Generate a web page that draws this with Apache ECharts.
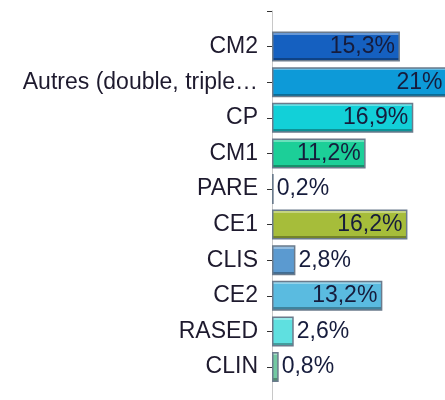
<!DOCTYPE html>
<html>
<head>
<meta charset="utf-8">
<script src="https://cdn.jsdelivr.net/npm/echarts@6/dist/echarts.min.js"></script>
<style>
html,body{margin:0;padding:0;background:#fff;}
#chart{width:445px;height:400px;}
</style>
</head>
<body>
<div id="chart"></div>
<script>
var categories = ['CM2', 'Autres (double, triple\u2026', 'CP', 'CM1', 'PARE', 'CE1', 'CLIS', 'CE2', 'RASED', 'CLIN'];
var values = [15.3, 21, 16.9, 11.2, 0.2, 16.2, 2.8, 13.2, 2.6, 0.8];
var valueLabels = ['15,3%', '21%', '16,9%', '11,2%', '0,2%', '16,2%', '2,8%', '13,2%', '2,6%', '0,8%'];

var fills = ['#1560c0', '#0d9ad8', '#12d0d8', '#1ccf98', '#3f6aa0', '#a6bd3a', '#5b9ad0', '#5abbe0', '#5fe0e0', '#72c9a2'];

function mix(hex, target, t) {
  var r = parseInt(hex.substr(1, 2), 16), g = parseInt(hex.substr(3, 2), 16), b = parseInt(hex.substr(5, 2), 16);
  r = Math.round(r + (target - r) * t); g = Math.round(g + (target - g) * t); b = Math.round(b + (target - b) * t);
  return 'rgb(' + r + ',' + g + ',' + b + ')';
}

var axisCats = [''].concat(categories).concat(['']);
var seriesData = [{ value: '-' }];
values.forEach(function (v, i) {
  var inside = v >= 10;
  seriesData.push({
    value: v,
    itemStyle: {
      color: {
        type: 'linear', x: 0, y: 0, x2: 0, y2: 1,
        colorStops: [
          { offset: 0, color: mix(fills[i], 255, 0.35) },
          { offset: 0.11, color: mix(fills[i], 255, 0.35) },
          { offset: 0.11, color: fills[i] },
          { offset: 0.88, color: fills[i] },
          { offset: 0.88, color: mix(fills[i], 0, 0.3) },
          { offset: 1, color: mix(fills[i], 0, 0.3) }
        ]
      }
    },
    label: {
      position: inside ? 'insideRight' : 'right',
      distance: inside ? 5 : 3,
      formatter: valueLabels[i]
    }
  });
});
seriesData.push({ value: '-' });

var chart = echarts.init(document.getElementById('chart'), null, { renderer: 'canvas' });
chart.setOption({
  animation: false,
  backgroundColor: '#ffffff',
  grid: { left: 272, top: 11, width: 209, height: 391.6, containLabel: false, outerBoundsMode: 'none' },
  xAxis: {
    type: 'value', min: 0, max: 25, show: false
  },
  yAxis: {
    type: 'category',
    data: axisCats,
    inverse: true,
    boundaryGap: false,
    axisLine: { show: true, lineStyle: { color: '#c8c8c8', width: 1 } },
    axisTick: { show: true, length: 5, lineStyle: { color: '#333333', width: 1 } },
    axisLabel: {
      margin: 14,
      color: '#1e1a2e',
      fontSize: 23,
      fontFamily: 'Liberation Sans, Arial, sans-serif',
      interval: 0
    },
    splitLine: { show: false }
  },
  series: [{
    type: 'bar',
    data: seriesData,
    barWidth: 30,
    clip: false,
    itemStyle: { borderColor: '#6b7b8c', borderWidth: 1.5 },
    label: {
      show: true,
      color: '#161c3c',
      fontSize: 23,
      fontFamily: 'Liberation Sans, Arial, sans-serif'
    }
  }]
});
</script>
</body>
</html>
